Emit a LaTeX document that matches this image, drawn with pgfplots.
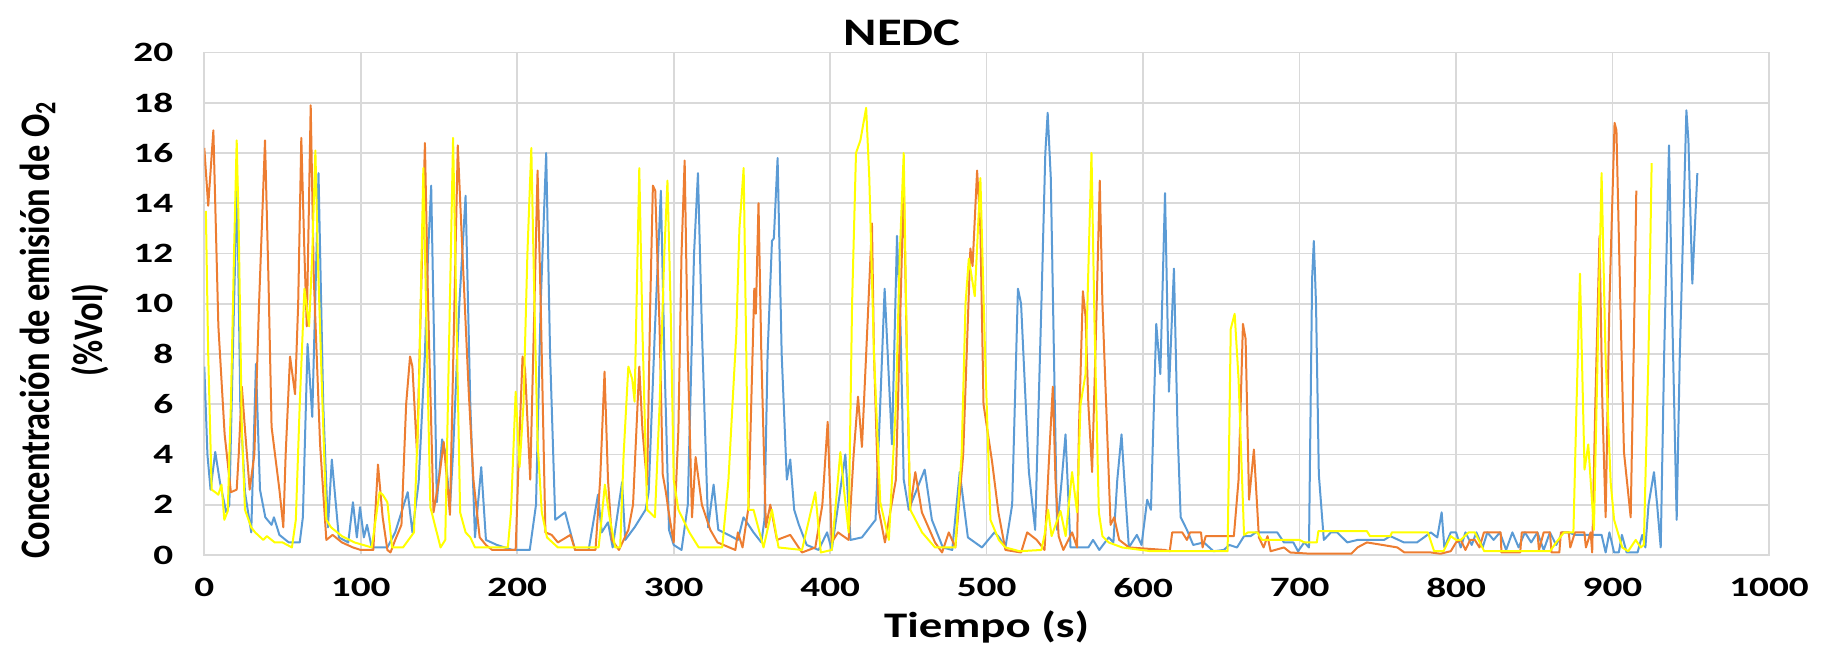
\documentclass[border=0pt]{standalone}
\usepackage{fontspec}
\usepackage{pgfplots}
\pgfplotsset{compat=1.18}
\setmainfont{Carlito}
\newfontfamily\tickfont[FakeStretch=1.4]{Carlito}
\newfontfamily\headfont[FakeStretch=1.3]{Carlito}
\newfontfamily\vfont[FakeStretch=0.82]{Carlito}
\definecolor{serA}{HTML}{5B9BD5}
\definecolor{serB}{HTML}{ED7D31}
\definecolor{serC}{HTML}{FFFF00}
\definecolor{gridc}{HTML}{D9D9D9}

\begin{document}
\begin{tikzpicture}
\begin{axis}[
  scale only axis, width=782.35pt, height=251.25pt,
  xmin=0, xmax=1000, ymin=0, ymax=20,
  xtick={0,100,...,1000}, ytick={0,2,...,20},
  grid=major, major grid style={gridc, line width=0.8pt},
  axis line style={gridc, line width=0.8pt},
  tick style={draw=none},
  /pgf/number format/assume math mode=true,
  /pgf/number format/1000 sep={},
  ticklabel style={font=\tickfont\bfseries\fontsize{14}{14}\selectfont},
  xticklabel style={yshift=-8pt},
  yticklabel style={xshift=-12pt},
  title={NEDC},
  every axis title/.style={font=\headfont\bfseries\fontsize{19.5}{20}\selectfont,
    at={(axis description cs:0.446,1)}, anchor=base, yshift=3.5pt},
  xlabel={Tiempo (s)},
  xlabel style={font=\headfont\bfseries\fontsize{18}{18}\selectfont,
    at={(axis description cs:0.5,0)}, anchor=base, yshift=-41.5pt},
  ylabel={Concentración de emisión de O\textsubscript{2}\\(\%Vol)},
  ylabel style={font=\vfont\bfseries\fontsize{21}{26.6}\selectfont, align=center,
    at={(axis description cs:-0.0895,0.448)}, anchor=center},
  every axis plot/.append style={line width=1pt, line join=round},
]
\coordinate (A) at (rel axis cs:0,0);
\coordinate (B) at (rel axis cs:1,1);

% Run 1
\addplot[serA] coordinates {
(0,7.5)(2,4.0)(4,2.6)(7,4.1)(10,2.9)(14,1.7)(16,2.0)(19,10)(21,14.8)(23,6)(26,2.5)(28,1.7)(30,0.9)
(33,7.6)(35.6,2.6)(39,1.5)(43,1.2)(44.5,1.5)(48,0.8)(54,0.5)(61,0.5)(63,1.5)(66,8.4)(69,5.5)(73,15.2)
(76,6)(79,1.1)(81.5,3.8)(86,0.7)(92,0.5)(95,2.1)(97.5,0.7)(99.5,1.9)(102,0.7)(104,1.2)(107,0.3)(117,0.3)
(122,0.9)(130,2.5)(133,0.9)(137,2.9)(141,8)(143,12)(145,14.7)(147,8)(148.6,2.1)(152,4.6)(154,4.1)(157,1.9)
(159,4.1)(163,10)(167,14.3)(170,6)(173,0.7)(177,3.5)(180,0.6)(187,0.4)(197,0.2)(208,0.2)(212,2)(215,10)
(218.5,16)(221,8)(224.3,1.4)(230.6,1.7)(237,0.2)(245.6,0.2)(251.6,2.4)(254,0.9)(258,1.3)(261,0.3)(267,2.9)
(269,0.6)(275,1.1)(282,1.8)(284,2.5)(288,9)(291.8,14.5)(294,8)(297,1.0)(300,0.4)(305,0.2)(309,2)(313,12)
(315.5,15.2)(318,9)(322,1.1)(325.5,2.8)(328.5,1.0)(335,0.8)(341,0.6)(344.6,1.5)(351,0.9)(356,0.5)(358,1.4)
(360,8)(362.8,12.5)(364,12.6)(366.4,15.8)(369,8)(372.3,3.0)(374.5,3.8)(377,1.8)(380,1.2)(385,0.4)(392.6,0.2)
(398,0.9)(401,0.2)(409.7,4.0)(413,0.6)(420.3,0.7)(429,1.4)(432,6)(434.8,10.6)(439.5,4.4)(442.7,12.7)(445,9)
(447,3)(450.2,1.8)(460.4,3.4)(465,1.4)(472,0.3)(478,0.2)(482.8,3.3)(488,0.7)(497,0.3)(505,0.9)(508,0.7)
(512,0.3)(516.3,2.0)(520,10.6)(522,10)(527,3.3)(531,1.0)(535,10)(537.5,16)(539,17.6)(541,15)(545,1.0)
(548,3)(550.4,4.8)(553.6,0.3)(565,0.3)(568,0.6)(572,0.2)(578,0.7)(581,0.5)(583.5,3)(586.2,4.8)(588,3)
(590.9,0.3)(596,0.8)(599,0.4)(602.6,2.2)(605,1.8)(608.4,9.2)(611,7.2)(614,14.4)(616.5,6.5)(619.7,11.4)
(622,5)(624,1.5)(628,1.0)(632,0.4)(638.8,0.5)(645,0.15)(651.6,0.2)(655,0.4)(660,0.3)(664.5,0.75)
(668.7,0.75)(672,0.9)(675,0.9)(685.7,0.9)(690,0.5)(696,0.5)(699,0.15)(703,0.5)(706,0.3)(708,11)
(709.1,12.5)(710.5,10)(712.3,3.2)(715.5,0.6)(720,0.9)(724,0.9)(730.5,0.5)(737,0.6)(745,0.6)(754,0.6)
(758,0.75)(766.7,0.5)(775,0.5)(779.5,0.7)(783.8,0.9)(788,0.7)(790.8,1.7)(792.5,0.3)(796.6,0.9)
(800,0.9)(803,0.3)(806,0.9)(810,0.4)(813,0.9)(817,0.3)(820,0.9)(824,0.6)(828,0.9)(832,0.2)(836,0.9)
(840,0.3)(844,0.9)(848,0.5)(852,0.9)(856,0.2)(860,0.9)(864,0.4)(868,0.9)(872,0.9)(876,0.8)(880,0.8)
(885,0.8)(890,0.8)(893,0.8)(895.6,0.1)(898,0.9)(901,0.1)(904,0.1)(906,0.8)(909,0.1)(913,0.1)(916,0.1)
(919,0.8)(921,0.3)(923,2)(926.5,3.3)(928.5,2)(930.8,0.3)(933,8)(936.1,16.3)(938,10)(941,1.4)(943,8)
(947.2,17.7)(948.5,16.5)(951,10.8)(954.2,15.2)
};

% Run 2
\addplot[serB] coordinates {
(0,16.2)(2.5,13.9)(5.8,16.9)(9,9.1)(13,4.8)(17,2.5)(20.7,2.6)(22,4)(24,6.7)(26,5)(29,2.6)(32,4)(35,10)
(38.8,16.5)(41,11)(43,5.1)(48,2.6)(50.5,1.1)(52,4)(54.8,7.9)(58,6.4)(60,10)(62,16.6)(64,12)(65.5,9.1)
(68,17.9)(70,11)(74,4.4)(78,0.6)(82,0.8)(88,0.5)(95,0.3)(100,0.2)(108,0.2)(111,3.6)(114,1.5)(117,0.2)
(119,0.1)(122,0.6)(126,1.2)(129,6)(131.5,7.9)(133,7.5)(136,4.0)(141,16.4)(143,10)(146.5,1.7)(150,3)
(153,4.5)(157,1.6)(162,16.3)(165,12)(169,6.5)(172,3)(176,0.7)(180,0.4)(184,0.2)(199,0.2)(201,4)
(203.4,7.9)(205,7.4)(208.3,3.0)(211,10)(213,15.3)(215,10)(218,0.9)(222,0.8)(226,0.5)(234,0.8)(237,0.2)
(250,0.2)(253,3)(255.8,7.3)(258,3)(260.5,0.6)(265,0.2)(271,1.0)(274,2)(278,7.5)(280,5)(283,2.8)(285,10)
(286.7,14.7)(288.2,14.5)(291,9)(293,3.2)(295,2.5)(296.8,1.7)(300,0.5)(303,5)(305,12)(307,15.7)(309,8)
(311.7,1.5)(314,3.9)(318,2)(323.4,1.0)(328,0.5)(339.4,0.2)(341,0.9)(344,0.3)(347.8,1.9)(351.5,10.6)
(352.5,9.6)(354.2,14)(356,8)(358.9,1.1)(361.7,2.0)(366,0.6)(374.5,0.8)(382,0.1)(390.5,0.3)(395,2)
(398.4,5.3)(401,0.5)(405,0.9)(411.8,0.6)(415,4)(417.8,6.3)(420.3,4.3)(423,8)(426.7,13.2)(428,8)(431,1.8)
(435,0.5)(442,3)(445,10)(447,14.9)(449,8)(451,1.8)(454.4,3.3)(458.6,1.7)(467,0.5)(471.5,0.1)(475.8,0.9)
(480,0.3)(485,4)(489.6,12.2)(491,11.5)(493.9,15.3)(496,13)(498,6)(503.5,3.7)(507.5,1.7)(512,0.2)(522,0.1)
(525.9,0.9)(532,0.6)(537,0.2)(540,4)(542.3,6.7)(544,3)(546,0.75)(549,0.2)(554.6,0.9)(557.8,0.3)(559,5)
(561.5,10.5)(563.2,9.5)(565,6)(567.4,3.3)(569.5,8)(572.3,14.9)(574,10)(579.2,1.2)(581.5,1.5)(584.7,0.6)
(591,0.3)(614,0.2)(617,0.15)(618.6,0.9)(625,0.9)(628,0.6)(630,0.9)(637,0.9)(638,0.3)(640,0.75)(658,0.75)
(661,3)(663.8,9.2)(665.5,8.6)(667.7,2.2)(670.8,4.2)(674,0.7)(677,0.3)(679.5,0.75)(681.5,0.15)(690,0.3)
(694,0.1)(707,0.05)(733,0.05)(737,0.3)(743,0.5)(753,0.4)(762.5,0.3)(767,0.1)(784,0.1)(790,0.05)
(796.6,0.15)(800,0.5)(803,0.6)(806,0.2)(809,0.6)(812,0.6)(815,0.3)(817.8,0.9)(828.5,0.9)(829,0.1)
(841,0.1)(842,0.9)(852,0.9)(853,0.2)(856,0.9)(860,0.9)(861,0.1)(866,0.1)(867,0.9)(872,0.9)(873,0.3)
(876,0.9)(882,0.9)(883,0.3)(886,0.9)(887,0.1)(889,6)(891.7,12.7)(893.5,6)(895.6,1.5)(898,10)(901.3,17.2)
(902.5,16.9)(905,10)(907.3,4.1)(911.6,1.5)(913.5,8)(915.2,14.5)
};

% Run 3
\addplot[serC] coordinates {
(1,13.7)(2.5,8)(4.7,2.6)(7,2.5)(9,2.4)(11,2.8)(12.8,1.4)(15,1.75)(17,6)(19,12)(20.7,16.5)(22,13)(24,5)
(26,1.8)(30,1.1)(32.5,0.9)(37.7,0.6)(40,0.75)(45,0.5)(50,0.5)(56,0.3)(58.5,1.4)(61,6)(64,10.6)(67,9.1)
(69,12)(71,16.1)(72.5,12)(75,7)(78,1.4)(81,1.1)(88,0.75)(96,0.5)(107,0.3)(112,2.5)(114,2.4)(117,2.1)
(120,0.3)(127,0.3)(134,0.9)(137,6)(140,15.4)(142,9)(144.5,1.9)(151,0.3)(154,0.6)(156,7)(159,16.6)(161,10)
(163.5,1.7)(167,0.9)(170,0.7)(173,0.3)(179,0.3)(194,0.3)(196,1.7)(199,6.5)(201.5,3.5)(204,6)(206.5,12)
(209,16.2)(211,10)(213,4.5)(215.7,1.7)(219,0.7)(226,0.3)(252,0.3)(254,1.5)(256,2.8)(259,1.5)(262.6,0.3)
(265.8,0.3)(268,4)(271,7.5)(273.5,7)(275,6.1)(278,15.4)(280,9)(283,1.8)(288,1.5)(291,6)(294,12)(296,14.9)
(298,10)(300,3)(303,1.8)(310,0.9)(316,0.3)(331,0.3)(335,3)(338,6.5)(340,8.8)(342,13)(344.7,15.4)
(347.8,1.8)(351,1.8)(357.4,0.3)(362.8,1.8)(367,0.3)(382,0.2)(390.5,2.5)(394,0.1)(401,0.2)(406.5,4.1)
(409,2.5)(411.8,0.9)(414,10)(416.5,16)(419.3,16.5)(423,17.8)(425,15)(428,8)(432,2.1)(437.5,0.6)(442,6)
(444.5,12)(447,16)(449,8)(451.2,1.8)(458.7,0.9)(467,0.3)(480,0.3)(484,4)(486.5,10)(488.6,11.8)
(492.4,10.3)(496,15)(499,8)(502.4,1.4)(507.8,0.6)(512,0.3)(521,0.15)(535,0.2)(537,0.8)(539.3,1.8)
(541.5,0.75)(547.2,1.75)(550.5,0.75)(554.6,3.3)(557.8,1.7)(560,6)(563.2,7.2)(567,16)(569,9)(571.7,1.7)
(574,0.75)(578,0.5)(586.6,0.3)(605,0.15)(654,0.15)(656,9)(658.5,9.6)(661,7)(664.5,0.8)(667,0.9)(673,0.9)
(676,0.6)(679,0.6)(700,0.6)(703,0.5)(711,0.5)(712,0.95)(720,0.95)(743,0.95)(745,0.75)(758,0.75)(759,0.9)
(782,0.9)(786,0.15)(792,0.15)(796.6,0.75)(800,0.6)(803,0.6)(808,0.9)(812,0.9)(818,0.15)(860,0.15)
(864,0.5)(869,0.9)(875,0.9)(877,6)(879.2,11.2)(882.1,3.4)(884.5,4.4)(888.1,1.0)(890.5,8)(893,15.2)
(895.5,8)(898.8,2.9)(901,1.4)(906.2,0.3)(910,0.15)(914.8,0.6)(918,0.3)(920,0.4)(923,8)(925,15.6)
};
\end{axis}
\pgfresetboundingbox
\path[use as bounding box] ([xshift=-102.15pt,yshift=-45.5pt]A) rectangle ([xshift=26.5pt,yshift=26.25pt]B);
\end{tikzpicture}
\end{document}
